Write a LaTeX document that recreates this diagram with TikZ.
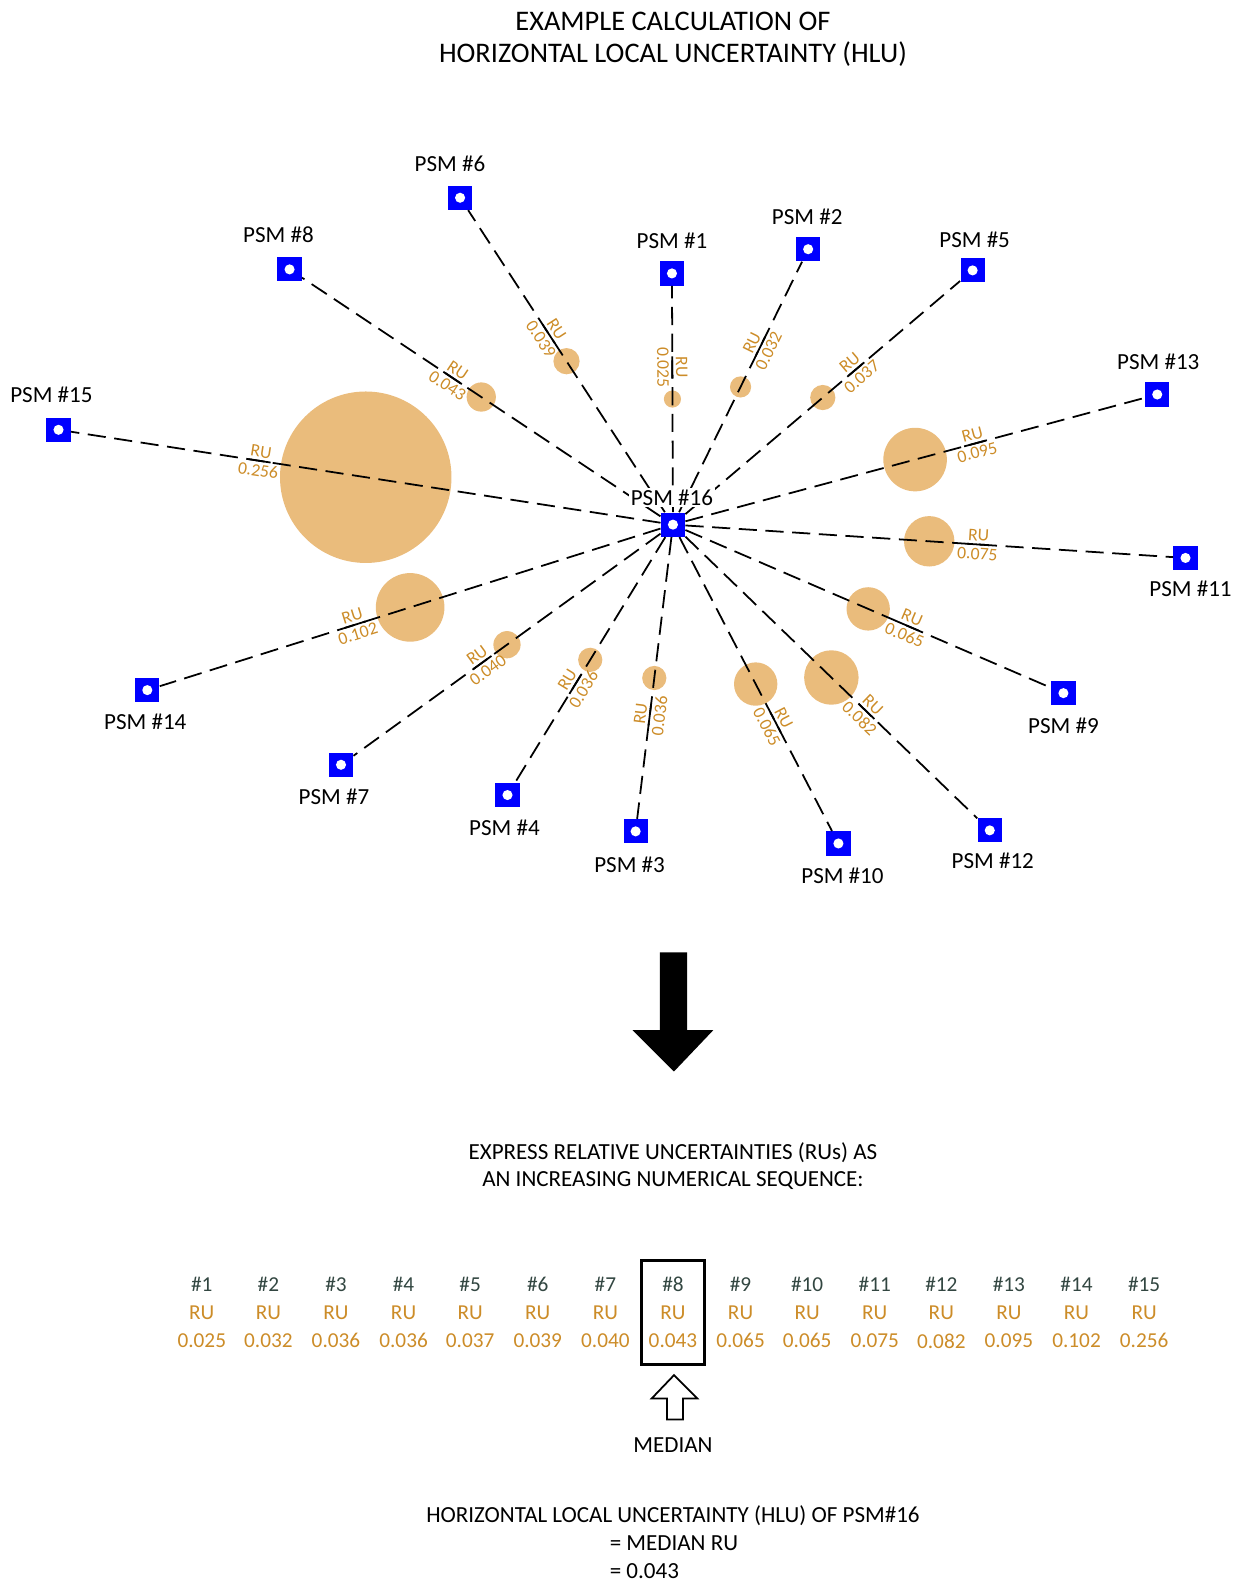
\documentclass[tikz,border=0pt]{standalone}
\usepackage{fontspec}
\setmainfont{Carlito}
\usetikzlibrary{calc}
\definecolor{psmblue}{RGB}{0,0,255}
\definecolor{rufill}{RGB}{234,188,124}
\definecolor{rutext}{RGB}{204,140,40}
\definecolor{seqgray}{RGB}{50,70,65}

\begin{document}
\begin{tikzpicture}[x=0.02cm, y=-0.02cm,
        psm/.style={rectangle, fill=psmblue, minimum size=0.48cm, inner sep=0pt,
            path picture={\fill[white] (path picture bounding box.center) circle (0.1cm);}},
        psmlabel/.style={font=\fontsize{13}{15}\selectfont},
        link/.style={dash pattern=on 0.36cm off 0.17cm, line width=1pt},
        rutop/.style={sloped, above, inner sep=1.5pt, text=rutext, font=\fontsize{10}{11}\selectfont},
        rubot/.style={sloped, below, inner sep=1.5pt, text=rutext, font=\fontsize{10}{11}\selectfont},
        rubar/.style={sloped, fill=black, minimum width=0.44cm, minimum height=1pt, inner sep=0pt},
        heading/.style={font=\fontsize{16}{18}\selectfont},
        note/.style={font=\fontsize{13}{15}\selectfont},
        seqnum/.style={text=seqgray, font=\fontsize{12}{14}\selectfont},
        seqru/.style={text=rutext, font=\fontsize{12}{14}\selectfont}]
        \useasboundingbox (0,0) rectangle (1227,1568);

        % Title
        \node[heading] (title1) at (667,21) {EXAMPLE CALCULATION OF};
        \node[heading] (title2) at (667,54) {HORIZONTAL LOCAL UNCERTAINTY (HLU)};

        % Draw nodes
        \node[psm] (p16) at (667,520) {};
        \node[psm] (p1) at (666,271) {};
        \node[psm] (p2) at (801,247) {};
        \node[psm] (p3) at (630,824) {};
        \node[psm] (p4) at (503,788) {};
        \node[psm] (p5) at (964,268) {};
        \node[psm] (p6) at (456,196) {};
        \node[psm] (p7) at (338,758) {};
        \node[psm] (p8) at (287,267) {};
        \node[psm] (p9) at (1054,687) {};
        \node[psm] (p10) at (831,836) {};
        \node[psm] (p11) at (1175,553) {};
        \node[psm] (p12) at (981,823) {};
        \node[psm] (p13) at (1147,391) {};
        \node[psm] (p14) at (146,684) {};
        \node[psm] (p15) at (58,426) {};

        % RU circles (radius follows the RU)
        \fill[rufill] ($(p16)!0.5!(p1)$) circle (0.17cm);
        \fill[rufill] ($(p16)!0.5!(p2)$) circle (0.21cm);
        \fill[rufill] ($(p16)!0.5!(p3)$) circle (0.24cm);
        \fill[rufill] ($(p16)!0.5!(p4)$) circle (0.24cm);
        \fill[rufill] ($(p16)!0.5!(p5)$) circle (0.25cm);
        \fill[rufill] ($(p16)!0.5!(p6)$) circle (0.26cm);
        \fill[rufill] ($(p16)!0.5!(p7)$) circle (0.27cm);
        \fill[rufill] ($(p16)!0.5!(p8)$) circle (0.29cm);
        \fill[rufill] ($(p16)!0.5!(p9)$) circle (0.43cm);
        \fill[rufill] ($(p16)!0.5!(p10)$) circle (0.43cm);
        \fill[rufill] ($(p16)!0.5!(p11)$) circle (0.50cm);
        \fill[rufill] ($(p16)!0.5!(p12)$) circle (0.54cm);
        \fill[rufill] ($(p16)!0.5!(p13)$) circle (0.63cm);
        \fill[rufill] ($(p16)!0.5!(p14)$) circle (0.68cm);
        \fill[rufill] ($(p16)!0.5!(p15)$) circle (1.70cm);

        % Draw connections
        \draw[link] (p16) -- (p1) node[rutop, pos=0.64] (r1) {RU} node[rubar, pos=0.64] (b1) {} node[rubot, pos=0.64] (v1) {0.025};
        \draw[link] (p16) -- (p2) node[rutop, pos=0.66] (r2) {RU} node[rubar, pos=0.66] (b2) {} node[rubot, pos=0.66] (v2) {0.032};
        \draw[link] (p16) -- (p3) node[rutop, pos=0.63] (r3) {RU} node[rubar, pos=0.63] (b3) {} node[rubot, pos=0.63] (v3) {0.036};
        \draw[link] (p16) -- (p4) node[rutop, pos=0.60] (r4) {RU} node[rubar, pos=0.60] (b4) {} node[rubot, pos=0.60] (v4) {0.036};
        \draw[link] (p16) -- (p5) node[rutop, pos=0.62] (r5) {RU} node[rubar, pos=0.62] (b5) {} node[rubot, pos=0.62] (v5) {0.037};
        \draw[link] (p16) -- (p6) node[rutop, pos=0.59] (r6) {RU} node[rubar, pos=0.59] (b6) {} node[rubot, pos=0.59] (v6) {0.039};
        \draw[link] (p16) -- (p7) node[rutop, pos=0.58] (r7) {RU} node[rubar, pos=0.58] (b7) {} node[rubot, pos=0.58] (v7) {0.040};
        \draw[link] (p16) -- (p8) node[rutop, pos=0.58] (r8) {RU} node[rubar, pos=0.58] (b8) {} node[rubot, pos=0.58] (v8) {0.043};
        \draw[link] (p16) -- (p9) node[rutop, pos=0.61] (r9) {RU} node[rubar, pos=0.61] (b9) {} node[rubot, pos=0.61] (v9) {0.065};
        \draw[link] (p16) -- (p10) node[rutop, pos=0.63] (r10) {RU} node[rubar, pos=0.63] (b10) {} node[rubot, pos=0.63] (v10) {0.065};
        \draw[link] (p16) -- (p11) node[rutop, pos=0.60] (r11) {RU} node[rubar, pos=0.60] (b11) {} node[rubot, pos=0.60] (v11) {0.075};
        \draw[link] (p16) -- (p12) node[rutop, pos=0.62] (r12) {RU} node[rubar, pos=0.62] (b12) {} node[rubot, pos=0.62] (v12) {0.082};
        \draw[link] (p16) -- (p13) node[rutop, pos=0.63] (r13) {RU} node[rubar, pos=0.63] (b13) {} node[rubot, pos=0.63] (v13) {0.095};
        \draw[link] (p16) -- (p14) node[rutop, pos=0.61] (r14) {RU} node[rubar, pos=0.61] (b14) {} node[rubot, pos=0.61] (v14) {0.102};
        \draw[link] (p16) -- (p15) node[rutop, pos=0.68] (r15) {RU} node[rubar, pos=0.68] (b15) {} node[rubot, pos=0.68] (v15) {0.256};

        % Labels
        \node[psmlabel, fill=white, inner sep=1pt] (l16) at (666,493) {PSM \#16};
        \node[psmlabel] (l1) at (666,239) {PSM \#1};
        \node[psmlabel] (l2) at (800,215) {PSM \#2};
        \node[psmlabel] (l3) at (624,857) {PSM \#3};
        \node[psmlabel] (l4) at (500,820) {PSM \#4};
        \node[psmlabel] (l5) at (966,238) {PSM \#5};
        \node[psmlabel] (l6) at (446,162) {PSM \#6};
        \node[psmlabel] (l7) at (331,790) {PSM \#7};
        \node[psmlabel] (l8) at (276,233) {PSM \#8};
        \node[psmlabel] (l9) at (1054,719) {PSM \#9};
        \node[psmlabel] (l10) at (835,868) {PSM \#10};
        \node[psmlabel] (l11) at (1180,584) {PSM \#11};
        \node[psmlabel] (l12) at (984,853) {PSM \#12};
        \node[psmlabel] (l13) at (1148,359) {PSM \#13};
        \node[psmlabel] (l14) at (144,715) {PSM \#14};
        \node[psmlabel] (l15) at (51,391) {PSM \#15};

        % Big arrow down
        \fill (654,944) -- (681,944) -- (681,1021) -- (707,1021) -- (668,1062)
            -- (627,1021) -- (654,1021) -- cycle;

        % Sequence
        \node[note] (ask1) at (667,1142) {EXPRESS RELATIVE UNCERTAINTIES (RUs) AS};
        \node[note] (ask2) at (667,1170) {AN INCREASING NUMERICAL SEQUENCE:};

        \node[seqnum] (n1) at (200,1273) {\#1}; \node[seqru] (s1) at (200,1301) {RU}; \node[seqru] (m1) at (200,1329) {0.025};
        \node[seqnum] (n2) at (266,1273) {\#2}; \node[seqru] (s2) at (266,1301) {RU}; \node[seqru] (m2) at (266,1329) {0.032};
        \node[seqnum] (n3) at (333,1273) {\#3}; \node[seqru] (s3) at (333,1301) {RU}; \node[seqru] (m3) at (333,1329) {0.036};
        \node[seqnum] (n4) at (400,1273) {\#4}; \node[seqru] (s4) at (400,1301) {RU}; \node[seqru] (m4) at (400,1329) {0.036};
        \node[seqnum] (n5) at (466,1273) {\#5}; \node[seqru] (s5) at (466,1301) {RU}; \node[seqru] (m5) at (466,1329) {0.037};
        \node[seqnum] (n6) at (533,1273) {\#6}; \node[seqru] (s6) at (533,1301) {RU}; \node[seqru] (m6) at (533,1329) {0.039};
        \node[seqnum] (n7) at (600,1273) {\#7}; \node[seqru] (s7) at (600,1301) {RU}; \node[seqru] (m7) at (600,1329) {0.040};
        \node[seqnum] (n8) at (667,1273) {\#8}; \node[seqru] (s8) at (667,1301) {RU}; \node[seqru] (m8) at (667,1329) {0.043};
        \node[seqnum] (n9) at (734,1273) {\#9}; \node[seqru] (s9) at (734,1301) {RU}; \node[seqru] (m9) at (734,1329) {0.065};
        \node[seqnum] (n10) at (800,1273) {\#10}; \node[seqru] (s10) at (800,1301) {RU}; \node[seqru] (m10) at (800,1329) {0.065};
        \node[seqnum] (n11) at (867,1273) {\#11}; \node[seqru] (s11) at (867,1301) {RU}; \node[seqru] (m11) at (867,1329) {0.075};
        \node[seqnum] (n12) at (933,1273) {\#12}; \node[seqru] (s12) at (933,1301) {RU}; \node[seqru] (m12) at (933,1329) {0.082};
        \node[seqnum] (n13) at (1000,1273) {\#13}; \node[seqru] (s13) at (1000,1301) {RU}; \node[seqru] (m13) at (1000,1329) {0.095};
        \node[seqnum] (n14) at (1067,1273) {\#14}; \node[seqru] (s14) at (1067,1301) {RU}; \node[seqru] (m14) at (1067,1329) {0.102};
        \node[seqnum] (n15) at (1134,1273) {\#15}; \node[seqru] (s15) at (1134,1301) {RU}; \node[seqru] (m15) at (1134,1329) {0.256};

        % Median box and arrow
        \node[draw, line width=1.7pt, minimum width=1.24cm, minimum height=2.06cm] (medbox) at (667,1301) {};
        \draw[line width=1pt, line join=miter] (668,1363) -- (691,1386) -- (677,1386) -- (677,1407)
            -- (661,1407) -- (661,1386) -- (646,1386) -- cycle;
        \node[note] (median) at (667,1432) {MEDIAN};

        % Result
        \node[note] (res1) at (667,1502) {HORIZONTAL LOCAL UNCERTAINTY (HLU) OF PSM\#16};
        \node[note, anchor=west, inner sep=0pt] (res2) at (604,1530) {= MEDIAN RU};
        \node[note, anchor=west, inner sep=0pt] (res3) at (604,1557) {= 0.043};
    \end{tikzpicture}
\end{document}
